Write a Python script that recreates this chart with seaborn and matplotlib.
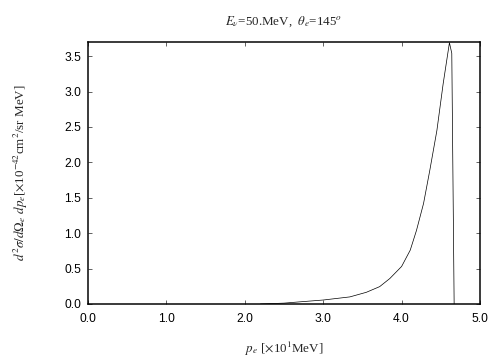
import numpy as np
import pandas as pd
import seaborn as sns
import matplotlib.pyplot as plt

# --- data ---
p_e = [2.2, 2.5, 2.7, 3.0, 3.34, 3.55, 3.72, 3.85, 4.0, 4.11, 4.19,
       4.28, 4.36, 4.45, 4.53, 4.61, 4.64, 4.67]
xsec = [0.0, 0.012, 0.03, 0.056, 0.10, 0.165, 0.245, 0.36, 0.53, 0.76, 1.04,
        1.42, 1.89, 2.45, 3.11, 3.69, 3.54, 0.0]
x_ticks = [0.0, 1.0, 2.0, 3.0, 4.0, 5.0]
y_ticks = [0.0, 0.5, 1.0, 1.5, 2.0, 2.5, 3.0, 3.5]

df = pd.DataFrame({'p': p_e, 'y': xsec})

sns.set_style('ticks')
plt.rcParams['font.family'] = ['Liberation Sans', 'DejaVu Sans']
plt.rcParams['mathtext.fontset'] = 'stix'

fig = plt.figure(figsize=(7, 5), dpi=72)
ax = fig.add_axes([0.1746, 0.1556, 0.7778, 0.7278])

sns.lineplot(data=df, x='p', y='y', sort=False, color='black', lw=0.7, ax=ax)

ax.set_xlim(0, 5.0)
ax.set_ylim(0, 3.7)
ax.set_xticks(x_ticks)
ax.set_yticks(y_ticks)
ax.set_xticklabels([f'{v:.1f}' for v in x_ticks])
ax.set_yticklabels([f'{v:.1f}' for v in y_ticks])
ax.tick_params(direction='in', top=True, right=True, length=4, width=0.6,
               labelsize=12, colors='black')
ax.tick_params(axis='x', pad=9)
ax.tick_params(axis='y', pad=7)
for s in ax.spines.values():
    s.set_visible(True)
    s.set_linewidth(1.5)
    s.set_color('black')

serif = dict(family='Liberation Serif', fontsize=13)
ax.set_title(r'$E_\nu$=50.MeV,  $\theta_e$=145$^o$', pad=17, **serif)
ax.set_xlabel(r'$p_e$ [$\times$10$^1$MeV]', labelpad=15, **serif)
ax.set_ylabel(r'$d^2\sigma/d\Omega_e\ dp_e$[$\times$10$^{-42}$cm$^2$/sr MeV]',
              labelpad=34, **serif)

plt.savefig('out.png', dpi=72)
